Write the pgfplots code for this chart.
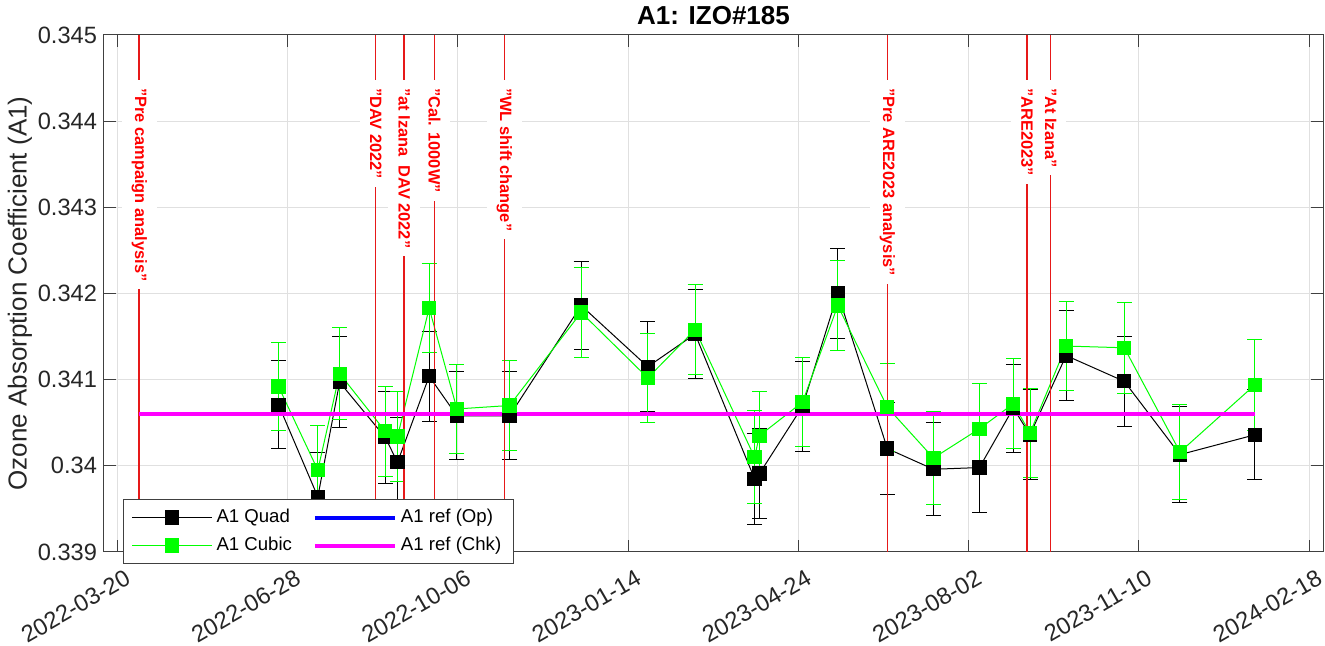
\documentclass[border=0pt]{standalone}
\usepackage{pgfplots}
\pgfplotsset{compat=1.18}
\usepackage{pgfplotstable}
\usepackage{fontspec}
\setmainfont{Liberation Sans}
\usetikzlibrary{calc}
\definecolor{mgreen}{RGB}{0,255,0}
\definecolor{mmag}{RGB}{255,0,255}
\definecolor{mblue}{RGB}{0,0,255}
\definecolor{axgray}{RGB}{38,38,38}
\definecolor{lred}{RGB}{230,25,25}

\pgfplotstableread{
d q qe c ce
94.7 0.34071 0.00051 0.34092 0.00051
117.8 0.33964 0.00051 0.33995 0.00052
130.6 0.34097 0.00053 0.34107 0.00053
157.4 0.34033 0.00053 0.34040 0.00052
164.6 0.34004 0.00052 0.34034 0.00052
183.2 0.34104 0.00052 0.34183 0.00052
199.5 0.34058 0.00051 0.34066 0.00052
230.4 0.34058 0.00051 0.34070 0.00052
272.5 0.34186 0.00051 0.34178 0.00052
311.6 0.34115 0.00052 0.34102 0.00052
339.4 0.34153 0.00052 0.34158 0.00052
374.3 0.33985 0.00053 0.34010 0.00054
377.2 0.33991 0.00052 0.34035 0.00051
402.5 0.34069 0.00052 0.34074 0.00052
423.2 0.34200 0.00052 0.34186 0.00052
452.3 0.34020 0.00053 0.34068 0.00051
479.4 0.33996 0.00054 0.34009 0.00054
506.4 0.33998 0.00052 0.34043 0.00052
526.3 0.34067 0.00051 0.34072 0.00052
536.1 0.34036 0.00052 0.34038 0.00052
557.3 0.34128 0.00052 0.34139 0.00052
591.5 0.34098 0.00052 0.34137 0.00053
624.2 0.34013 0.00056 0.34016 0.00055
668.2 0.34036 0.00052 0.34094 0.00053
}\datatab

\tikzset{lbl/.style={anchor=west, rotate=-90, fill=white, inner xsep=4pt, inner ysep=5pt, text=red, font=\bfseries\fontsize{8.2}{10}\selectfont}}

\begin{document}
\begin{tikzpicture}
\begin{axis}[name=ax, scale only axis, width=609.5pt, height=258.5pt,
  xmin=-7.8, xmax=708.2, ymin=0.339, ymax=0.345,
  xtick={0,100,200,300,400,500,600,700},
  xticklabels={2022-03-20,2022-06-28,2022-10-06,2023-01-14,2023-04-24,2023-08-02,2023-11-10,2024-02-18},
  ytick={0.339,0.34,0.341,0.342,0.343,0.344,0.345},
  yticklabels={0.339,0.34,0.341,0.342,0.343,0.344,0.345},
  tick align=inside, tick pos=both, major tick length=6pt,
  grid=major, major grid style={draw=black!12, line width=0.5pt},
  axis line style={draw=black!75, line width=0.5pt},
  every tick/.style={black!75, line width=0.5pt},
  ticklabel style={font=\fontsize{11.8}{14}\selectfont, text=axgray},
  xticklabel style={yshift=-12pt, xshift=5.5pt, rotate=30, anchor=east, inner sep=0pt},
  ylabel={Ozone Absorption Coefficient (A1)},
  ylabel style={at={(axis description cs:-0.0689,0.5)}, anchor=center, font=\fontsize{13}{15}\selectfont, text=axgray},
  title={A1: IZO\#185},
  every axis title/.style={at={(0.5,1)}, anchor=base, yshift=5pt, font=\bfseries\fontsize{13}{15}\selectfont},
  legend columns=2,
  legend cell align=left,
  legend style={at={(0.0156,0.1025)}, anchor=north west, draw=black!75, line width=0.5pt, fill=white,
    inner xsep=4pt, inner ysep=2.5pt, font=\fontsize{9.3}{11}\selectfont,
    nodes={inner sep=2pt, text height=7pt, text depth=2pt}, row sep=1pt,
    /tikz/every even column/.append style={column sep=8.5pt}},
  legend image code/.code={\draw[mark repeat=2, mark phase=2, #1] plot coordinates {(0pt,0pt) (20pt,0pt) (40pt,0pt)};},
]
\addlegendimage{black, line width=0.5pt, mark=square*, mark size=3.3pt, mark options={solid, fill=black}}
\addlegendentry{A1 Quad}
\addlegendimage{mblue, line width=2pt}
\addlegendentry{A1 ref (Op)}
\addlegendimage{mgreen, line width=0.5pt, mark=square*, mark size=3.3pt, mark options={solid, fill=mgreen}}
\addlegendentry{A1 Cubic}
\addlegendimage{mmag, line width=2pt}
\addlegendentry{A1 ref (Chk)}

\addplot[forget plot, black, line width=0.5pt, mark=square*, mark size=3.3pt, mark options={fill=black},
  error bars/.cd, y dir=both, y explicit, error bar style={black, line width=0.5pt},
  error mark options={rotate=90, black, line width=0.5pt, mark size=3.75pt}]
  table[x=d, y=q, y error=qe] {\datatab};
\addplot[forget plot, mgreen, line width=0.5pt, mark=square*, mark size=3.3pt, mark options={fill=mgreen},
  error bars/.cd, y dir=both, y explicit, error bar style={mgreen, line width=0.5pt},
  error mark options={rotate=90, mgreen, line width=0.5pt, mark size=3.75pt}]
  table[x=d, y=c, y error=ce] {\datatab};

\addplot[forget plot, lred, line width=0.75pt] coordinates {(12.9,0.339) (12.9,0.345)};
\addplot[forget plot, lred, line width=0.75pt] coordinates {(151.8,0.339) (151.8,0.345)};
\addplot[forget plot, lred, line width=0.75pt] coordinates {(168.5,0.339) (168.5,0.345)};
\addplot[forget plot, lred, line width=0.75pt] coordinates {(186.3,0.339) (186.3,0.345)};
\addplot[forget plot, lred, line width=0.75pt] coordinates {(227.4,0.339) (227.4,0.345)};
\addplot[forget plot, lred, line width=0.75pt] coordinates {(452.3,0.339) (452.3,0.345)};
\addplot[forget plot, lred, line width=0.75pt] coordinates {(534.3,0.339) (534.3,0.345)};
\addplot[forget plot, lred, line width=0.75pt] coordinates {(548.2,0.339) (548.2,0.345)};

\node[lbl] at (axis cs:12.9,0.34448) {"Pre campaign analysis"};
\node[lbl] at (axis cs:151.8,0.34448) {"DAV 2022"};
\node[lbl] at (axis cs:168.5,0.34448) {"at Izana\ \ DAV 2022"};
\node[lbl] at (axis cs:186.3,0.34448) {"Cal. 1000W"};
\node[lbl] at (axis cs:227.4,0.34448) {"WL shift change"};
\node[lbl] at (axis cs:452.3,0.34448) {"Pre ARE2023 analysis"};
\node[lbl] at (axis cs:534.3,0.34448) {"ARE2023"};
\node[lbl] at (axis cs:548.2,0.34448) {"At Izana"};

\addplot[forget plot, mblue, line width=2pt] coordinates {(12.9,0.3406) (668.2,0.3406)};
\addplot[forget plot, mmag, line width=2pt] coordinates {(12.9,0.3406) (668.2,0.3406)};
\end{axis}
\pgfresetboundingbox
\path[use as bounding box] ($(ax.south west)+(-52pt,-47pt)$) rectangle ($(ax.north east)+(1pt,17.5pt)$);
\end{tikzpicture}
\end{document}
